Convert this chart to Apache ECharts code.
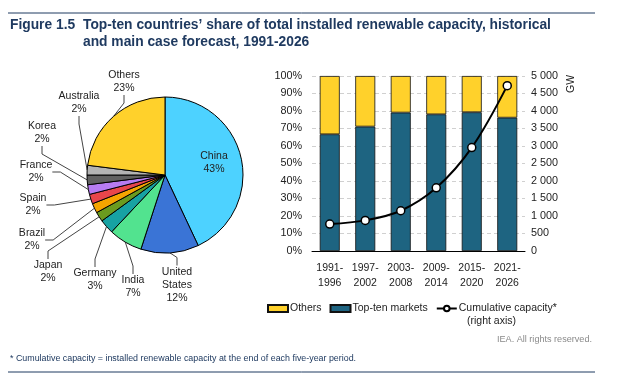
<!DOCTYPE html>
<html><head><meta charset="utf-8">
<script src="https://cdn.jsdelivr.net/npm/echarts@6/dist/echarts.min.js"></script>
<style>html,body{margin:0;padding:0;background:#fff}#c{width:630px;height:376px}</style>
</head><body><div id="c"></div>
<script>
// ---- data ----
var pieNames = ['China','United\nStates','India','Germany','Japan','Brazil','Spain','France','Korea','Australia','Others'];
var pieValues = [43,12,7,3,2,2,2,2,2,2,23];
var pieColors = ['#4dd2ff','#3a74d6','#52e38f','#17a2a3','#6b9b1f','#f5a500','#e8464b','#b77cf2','#606060','#b3b3b3','#ffd12b'];
var periods = ['1991-\n1996','1997-\n2002','2003-\n2008','2009-\n2014','2015-\n2020','2021-\n2026'];
var topTen = [66.7,71.1,79.1,78.1,79.3,76.2];
var others = [33.3,28.9,20.9,21.9,20.7,23.8];
var cumulative = [770,875,1150,1805,2955,4725];
var leftTicks = [0,10,20,30,40,50,60,70,80,90,100];
var rightTicks = [0,500,1000,1500,2000,2500,3000,3500,4000,4500,5000];
// label anchor positions (layout only)
var labelPos = [[214,163],[177,285],[133,287],[95,280],[48,272],[32,240],[33,205],[36,172],[42,133],[79,103],[124,82]];

var navy = '#1f3a60';
var font = 'Liberation Sans, Arial, sans-serif';
function fmtSpace(v){ return String(v).replace(/\B(?=(\d{3})+(?!\d))/g,' '); }

var chart = echarts.init(document.getElementById('c'));
chart.setOption({
  animation:false,
  textStyle:{fontFamily:font},
  title:[
    {text:'Figure 1.5', left:5, top:12, textStyle:{fontSize:13.8,fontWeight:'bold',color:navy,lineHeight:16.5,fontFamily:font}},
    {text:"Top-ten countries\u2019 share of total installed renewable capacity, historical\nand main case forecast, 1991-2026", left:78, top:12,
      textStyle:{fontSize:13.8,fontWeight:'bold',color:navy,lineHeight:16.5,fontFamily:font}},
    {text:'(right axis)', left:462, top:311, textStyle:{fontSize:10.5,fontWeight:'normal',color:'#222',fontFamily:font}},
    {text:'IEA. All rights reserved.', right:33, top:330, textStyle:{fontSize:9.1,fontWeight:'normal',color:'#8a8a8a',fontFamily:font}},
    {text:'* Cumulative capacity = installed renewable capacity at the end of each five-year period.', left:5, top:349,
      textStyle:{fontSize:8.9,fontWeight:'normal',color:navy,fontFamily:font}}
  ],
  graphic:[
    {type:'line', shape:{x1:8,y1:13,x2:595,y2:13}, style:{stroke:navy,lineWidth:1}},
    {type:'line', shape:{x1:8,y1:372,x2:595,y2:372}, style:{stroke:navy,lineWidth:1}},
    {type:'text', x:571, y:93, rotation:Math.PI/2,
      style:{text:'GW', fill:'#222', font:'10.5px ' + font, textAlign:'left', textVerticalAlign:'middle'}}
  ],
  legend:{
    left:262, top:298, itemWidth:20, itemHeight:7, itemGap:8,
    textStyle:{fontSize:10.5,color:'#222',fontFamily:font, padding:[0,0,0,-3]},
    data:[{name:'Others',icon:'rect'},{name:'Top-ten markets',icon:'rect'},{name:'Cumulative capacity*'}]
  },
  grid:{left:312, top:76, width:213, height:175},
  xAxis:{type:'category', data:periods,
    axisLine:{lineStyle:{color:'#000',width:1}}, axisTick:{show:false},
    axisLabel:{color:'#222',fontSize:10.5,margin:10,lineHeight:15,fontFamily:font}},
  yAxis:[
    {type:'value', min:0, max:100, interval:10,
      axisLabel:{formatter:'{value}%',color:'#222',fontSize:10.8,margin:10,fontFamily:font},
      axisLine:{show:false}, axisTick:{show:false},
      splitLine:{lineStyle:{color:'#d0d0d0',type:[4,3],width:1}}},
    {type:'value', min:0, max:5000, interval:500, position:'right',
      axisLabel:{formatter:fmtSpace,color:'#222',fontSize:10.8,margin:6,fontFamily:font},
      axisLine:{show:false}, axisTick:{show:false}, splitLine:{show:false}}
  ],
  series:[
    {type:'pie', name:'share', center:[165,175], radius:[0,78], startAngle:90, clockwise:true,
      avoidLabelOverlap:false,
      data:pieNames.map(function(n,i){
        var d = {name:n, value:pieValues[i], itemStyle:{color:pieColors[i]}};
        if(i===0){ d.label={position:'inside'}; d.labelLine={show:false}; }
        return d;
      }),
      itemStyle:{borderColor:'#000',borderWidth:1},
      label:{formatter:function(p){return p.name+'\n'+p.value+'%';}, color:'#222', fontSize:10.5, lineHeight:13, align:'center', fontFamily:font},
      labelLine:{show:true, length:8, length2:8, lineStyle:{color:'#444',width:1}},
      labelLayout:function(p){ var q=labelPos[p.dataIndex]; return {x:q[0], y:q[1], align:'center', verticalAlign:'middle'}; },
      emphasis:{disabled:true}
    },
    {type:'bar', name:'Top-ten markets', stack:'s', data:topTen, barWidth:20,
      itemStyle:{color:'#1e6481',borderColor:'#111',borderWidth:0.8}},
    {type:'bar', name:'Others', stack:'s', data:others, barWidth:20,
      itemStyle:{color:'#ffd12b',borderColor:'#111',borderWidth:0.8}},
    {type:'line', name:'Cumulative capacity*', yAxisIndex:1, data:cumulative, smooth:0.35,
      lineStyle:{color:'#000',width:2}, symbol:'circle', symbolSize:8,
      itemStyle:{color:'#fff',borderColor:'#000',borderWidth:1.5}, z:5}
  ]
});
</script></body></html>
